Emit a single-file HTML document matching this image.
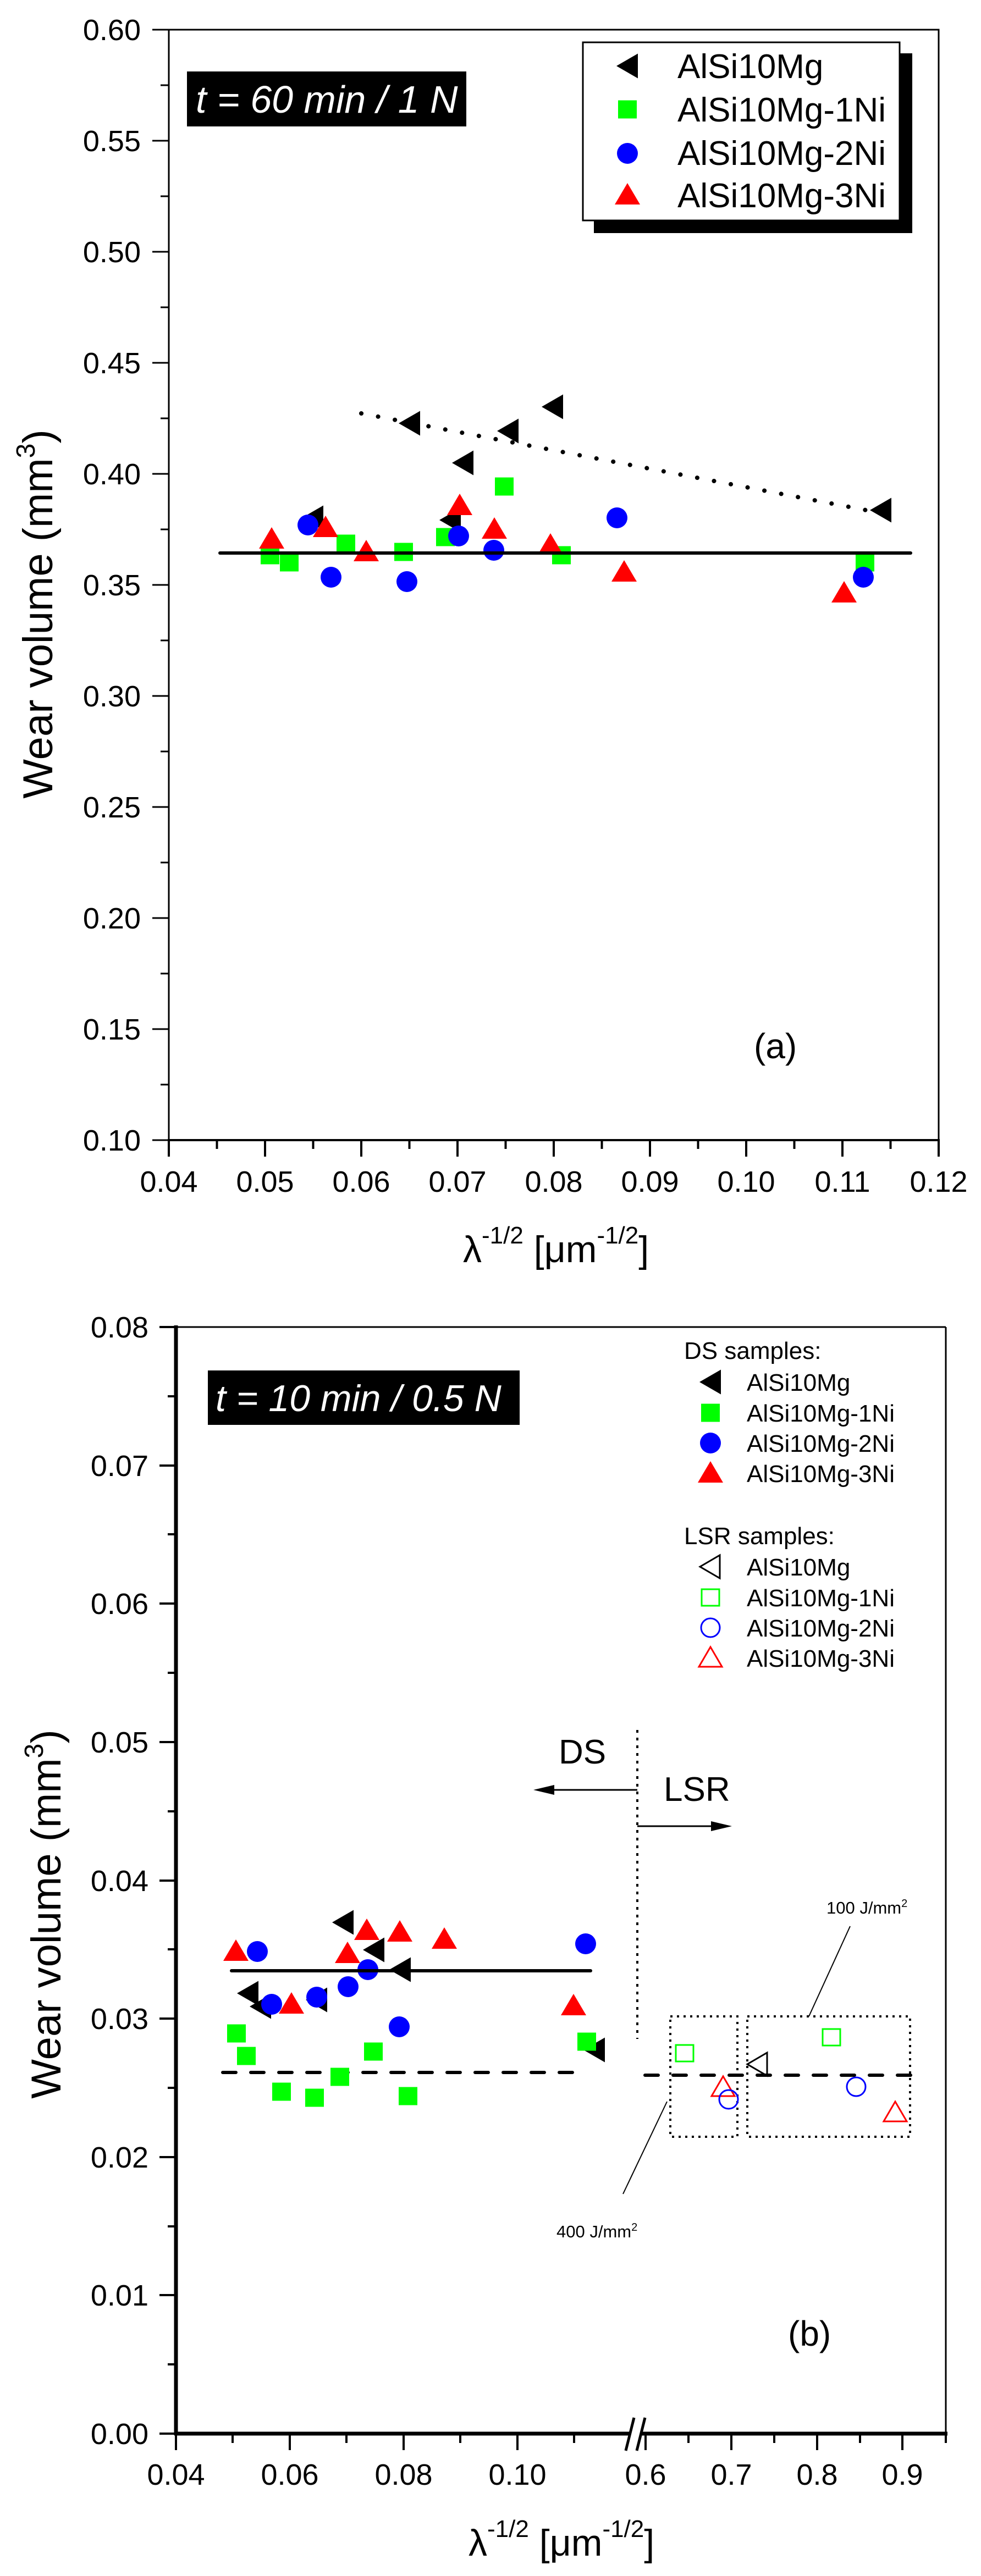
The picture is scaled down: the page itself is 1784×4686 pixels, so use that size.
<!DOCTYPE html>
<html><head><meta charset="utf-8"><style>
html,body{margin:0;padding:0;background:#fff}
svg{display:block}
text{font-family:"Liberation Sans",Arial,sans-serif}
</style></head><body>
<svg width="1784" height="4686" viewBox="0 0 1784 4686" xmlns="http://www.w3.org/2000/svg">
<defs>
<path id="lt" d="M-20,0 L19,-22.5 L19,22.5Z" fill="#000"/>
<rect id="sq" x="-17" y="-16.5" width="34" height="33" fill="#00ff00"/>
<ellipse id="ci" cx="0" cy="0" rx="19" ry="19" fill="#0000ff"/>
<path id="ut" d="M0,-22 L23,17 L-23,17Z" fill="#ff0000"/>
<path id="olt" d="M-19,0 L17,-21 L17,21Z" fill="none" stroke="#000" stroke-width="3"/>
<rect id="osq" x="-16" y="-15" width="32" height="30" fill="none" stroke="#00ff00" stroke-width="3"/>
<ellipse id="oci" cx="0" cy="0" rx="17" ry="17" fill="none" stroke="#0000ff" stroke-width="3"/>
<path id="out" d="M0,-20 L21,16 L-21,16Z" fill="none" stroke="#ff0000" stroke-width="3"/>
</defs>

<!-- ================= PANEL A ================= -->
<g stroke="#000" stroke-width="3" fill="none">
<rect x="307" y="54" width="1400" height="2020"/>
<line x1="305" y1="2074" x2="1709" y2="2074" stroke-width="4"/>
</g>
<g stroke="#000" stroke-width="3">
<line x1="277" y1="54" x2="307" y2="54"/><line x1="292" y1="155" x2="307" y2="155"/>
<line x1="277" y1="256" x2="307" y2="256"/><line x1="292" y1="357" x2="307" y2="357"/>
<line x1="277" y1="458" x2="307" y2="458"/><line x1="292" y1="559" x2="307" y2="559"/>
<line x1="277" y1="660" x2="307" y2="660"/><line x1="292" y1="761" x2="307" y2="761"/>
<line x1="277" y1="862" x2="307" y2="862"/><line x1="292" y1="963" x2="307" y2="963"/>
<line x1="277" y1="1064" x2="307" y2="1064"/><line x1="292" y1="1165" x2="307" y2="1165"/>
<line x1="277" y1="1266" x2="307" y2="1266"/><line x1="292" y1="1367" x2="307" y2="1367"/>
<line x1="277" y1="1468" x2="307" y2="1468"/><line x1="292" y1="1569" x2="307" y2="1569"/>
<line x1="277" y1="1670" x2="307" y2="1670"/><line x1="292" y1="1771" x2="307" y2="1771"/>
<line x1="277" y1="1872" x2="307" y2="1872"/><line x1="292" y1="1973" x2="307" y2="1973"/>
<line x1="277" y1="2074" x2="307" y2="2074"/>
</g>
<g stroke="#000" stroke-width="4">
<line x1="307" y1="2074" x2="307" y2="2104"/><line x1="394.5" y1="2074" x2="394.5" y2="2090"/>
<line x1="482" y1="2074" x2="482" y2="2104"/><line x1="569.5" y1="2074" x2="569.5" y2="2090"/>
<line x1="657" y1="2074" x2="657" y2="2104"/><line x1="744.5" y1="2074" x2="744.5" y2="2090"/>
<line x1="832" y1="2074" x2="832" y2="2104"/><line x1="919.5" y1="2074" x2="919.5" y2="2090"/>
<line x1="1007" y1="2074" x2="1007" y2="2104"/><line x1="1094.5" y1="2074" x2="1094.5" y2="2090"/>
<line x1="1182" y1="2074" x2="1182" y2="2104"/><line x1="1269.5" y1="2074" x2="1269.5" y2="2090"/>
<line x1="1357" y1="2074" x2="1357" y2="2104"/><line x1="1444.5" y1="2074" x2="1444.5" y2="2090"/>
<line x1="1532" y1="2074" x2="1532" y2="2104"/><line x1="1619.5" y1="2074" x2="1619.5" y2="2090"/>
<line x1="1707" y1="2074" x2="1707" y2="2104"/>
</g>
<g font-size="54" text-anchor="end">
<text x="256" y="73">0.60</text><text x="256" y="275">0.55</text><text x="256" y="477">0.50</text>
<text x="256" y="679">0.45</text><text x="256" y="881">0.40</text><text x="256" y="1083">0.35</text>
<text x="256" y="1285">0.30</text><text x="256" y="1487">0.25</text><text x="256" y="1689">0.20</text>
<text x="256" y="1891">0.15</text><text x="256" y="2093">0.10</text>
</g>
<g font-size="54" text-anchor="middle">
<text x="307" y="2168">0.04</text><text x="482" y="2168">0.05</text><text x="657" y="2168">0.06</text>
<text x="832" y="2168">0.07</text><text x="1007" y="2168">0.08</text><text x="1182" y="2168">0.09</text>
<text x="1357" y="2168">0.10</text><text x="1532" y="2168">0.11</text><text x="1707" y="2168">0.12</text>
</g>
<text x="842" y="2296" font-size="68">λ<tspan font-size="44" dy="-34">-1/2</tspan><tspan dy="34"> [μm</tspan><tspan font-size="44" dy="-34">-1/2</tspan><tspan dy="34">]</tspan></text>
<text transform="translate(95,1117) rotate(-90)" font-size="76" text-anchor="middle">Wear volume (mm<tspan font-size="48" dy="-32">3</tspan><tspan dy="32">)</tspan></text>

<rect x="340" y="130" width="508" height="100" fill="#000"/>
<text x="356" y="205" font-size="70" font-style="italic" fill="#fff">t = 60 min / 1 N</text>

<rect x="1080" y="97" width="579" height="327" fill="#000"/>
<rect x="1060" y="77" width="576" height="324" fill="#fff" stroke="#000" stroke-width="3"/>
<use href="#lt" x="1141" y="120"/><use href="#sq" x="1141" y="199"/>
<use href="#ci" x="1141" y="279"/><use href="#ut" x="1141" y="355"/>
<g font-size="62">
<text x="1232" y="142">AlSi10Mg</text><text x="1232" y="221">AlSi10Mg-1Ni</text>
<text x="1232" y="300">AlSi10Mg-2Ni</text><text x="1232" y="377">AlSi10Mg-3Ni</text>
</g>
<text x="1371" y="1925" font-size="64">(a)</text>

<line x1="657" y1="752" x2="1622" y2="937" stroke="#000" stroke-width="8" stroke-linecap="round" stroke-dasharray="0.1,31"/>

<use href="#lt" x="569" y="942"/><use href="#lt" x="745" y="770"/><use href="#lt" x="842" y="842"/>
<use href="#lt" x="819" y="946"/><use href="#lt" x="924" y="784"/><use href="#lt" x="1005" y="740"/>
<use href="#lt" x="1602" y="928"/>
<use href="#sq" x="491" y="1010"/><use href="#sq" x="526" y="1023"/><use href="#sq" x="629" y="989"/>
<use href="#sq" x="734" y="1004"/><use href="#sq" x="810" y="977"/><use href="#sq" x="917" y="885"/>
<use href="#sq" x="1021" y="1010"/><use href="#sq" x="1573" y="1023"/>
<use href="#ci" x="560" y="955"/><use href="#ci" x="602" y="1050"/><use href="#ci" x="740" y="1058"/>
<use href="#ci" x="834" y="975"/><use href="#ci" x="898" y="1001"/><use href="#ci" x="1122" y="942"/>
<use href="#ci" x="1570" y="1050"/>
<use href="#ut" x="494" y="981"/><use href="#ut" x="592" y="960"/><use href="#ut" x="666" y="1004"/>
<use href="#ut" x="836" y="920"/><use href="#ut" x="899" y="963"/><use href="#ut" x="1001" y="992"/>
<use href="#ut" x="1135" y="1041"/><use href="#ut" x="1535" y="1079"/>
<line x1="400" y1="1006" x2="1656" y2="1006" stroke="#000" stroke-width="6" stroke-linecap="round"/>

<!-- ================= PANEL B ================= -->
<g stroke="#000" fill="none">
<line x1="320" y1="2414" x2="1720" y2="2414" stroke-width="3"/>
<line x1="1720" y1="2414" x2="1720" y2="4427" stroke-width="3"/>
<line x1="320" y1="2411" x2="320" y2="4430" stroke-width="7"/>
<line x1="317" y1="4427" x2="1723" y2="4427" stroke-width="7"/>
</g>
<g stroke="#000" stroke-width="4">
<line x1="290" y1="2414" x2="320" y2="2414"/><line x1="305" y1="2540" x2="320" y2="2540"/>
<line x1="290" y1="2666" x2="320" y2="2666"/><line x1="305" y1="2791" x2="320" y2="2791"/>
<line x1="290" y1="2917" x2="320" y2="2917"/><line x1="305" y1="3043" x2="320" y2="3043"/>
<line x1="290" y1="3169" x2="320" y2="3169"/><line x1="305" y1="3295" x2="320" y2="3295"/>
<line x1="290" y1="3421" x2="320" y2="3421"/><line x1="305" y1="3546" x2="320" y2="3546"/>
<line x1="290" y1="3672" x2="320" y2="3672"/><line x1="305" y1="3798" x2="320" y2="3798"/>
<line x1="290" y1="3924" x2="320" y2="3924"/><line x1="305" y1="4050" x2="320" y2="4050"/>
<line x1="290" y1="4175" x2="320" y2="4175"/><line x1="305" y1="4301" x2="320" y2="4301"/>
<line x1="290" y1="4427" x2="320" y2="4427"/>
<line x1="320" y1="4427" x2="320" y2="4457"/><line x1="423" y1="4427" x2="423" y2="4444"/>
<line x1="527" y1="4427" x2="527" y2="4457"/><line x1="630" y1="4427" x2="630" y2="4444"/>
<line x1="734" y1="4427" x2="734" y2="4457"/><line x1="837" y1="4427" x2="837" y2="4444"/>
<line x1="941" y1="4427" x2="941" y2="4457"/><line x1="1044" y1="4427" x2="1044" y2="4444"/>
<line x1="1174" y1="4427" x2="1174" y2="4457"/><line x1="1252" y1="4427" x2="1252" y2="4444"/>
<line x1="1330" y1="4427" x2="1330" y2="4457"/><line x1="1408" y1="4427" x2="1408" y2="4444"/>
<line x1="1486" y1="4427" x2="1486" y2="4457"/><line x1="1564" y1="4427" x2="1564" y2="4444"/>
<line x1="1641" y1="4427" x2="1641" y2="4457"/><line x1="1720" y1="4427" x2="1720" y2="4444"/>
</g>
<rect x="1146" y="4420" width="18" height="14" fill="#fff"/>
<g stroke="#000" stroke-width="5">
<line x1="1153" y1="4398" x2="1138" y2="4458"/><line x1="1173" y1="4398" x2="1158" y2="4458"/>
</g>
<g font-size="54" text-anchor="end">
<text x="270" y="2433">0.08</text><text x="270" y="2685">0.07</text><text x="270" y="2936">0.06</text>
<text x="270" y="3188">0.05</text><text x="270" y="3440">0.04</text><text x="270" y="3691">0.03</text>
<text x="270" y="3943">0.02</text><text x="270" y="4194">0.01</text><text x="270" y="4446">0.00</text>
</g>
<g font-size="54" text-anchor="middle">
<text x="320" y="4520">0.04</text><text x="527" y="4520">0.06</text><text x="734" y="4520">0.08</text>
<text x="941" y="4520">0.10</text><text x="1174" y="4520">0.6</text><text x="1330" y="4520">0.7</text>
<text x="1486" y="4520">0.8</text><text x="1641" y="4520">0.9</text>
</g>
<text x="852" y="4649" font-size="68">λ<tspan font-size="44" dy="-34">-1/2</tspan><tspan dy="34"> [μm</tspan><tspan font-size="44" dy="-34">-1/2</tspan><tspan dy="34">]</tspan></text>
<text transform="translate(110,3482) rotate(-90)" font-size="76" text-anchor="middle">Wear volume (mm<tspan font-size="48" dy="-32">3</tspan><tspan dy="32">)</tspan></text>

<rect x="378" y="2493" width="567" height="99" fill="#000"/>
<text x="392" y="2567" font-size="68" font-style="italic" fill="#fff">t = 10 min / 0.5 N</text>

<g font-size="44">
<text x="1244" y="2472">DS samples:</text>
<text x="1358" y="2530">AlSi10Mg</text><text x="1358" y="2586">AlSi10Mg-1Ni</text>
<text x="1358" y="2641">AlSi10Mg-2Ni</text><text x="1358" y="2696">AlSi10Mg-3Ni</text>
<text x="1244" y="2809">LSR samples:</text>
<text x="1358" y="2866">AlSi10Mg</text><text x="1358" y="2922">AlSi10Mg-1Ni</text>
<text x="1358" y="2977">AlSi10Mg-2Ni</text><text x="1358" y="3032">AlSi10Mg-3Ni</text>
</g>
<use href="#lt" x="1292" y="2514"/><use href="#sq" x="1292" y="2570"/>
<use href="#ci" x="1292" y="2625"/><use href="#ut" x="1292" y="2680"/>
<use href="#olt" x="1292" y="2850"/><use href="#osq" x="1292" y="2906"/>
<use href="#oci" x="1292" y="2961"/><use href="#out" x="1292" y="3016"/>

<text x="1433" y="4267" font-size="64">(b)</text>

<line x1="1159" y1="3147" x2="1159" y2="3709" stroke="#000" stroke-width="4" stroke-dasharray="5,9"/>
<line x1="1159" y1="3256" x2="995" y2="3256" stroke="#000" stroke-width="3"/>
<path d="M970,3256 L1008,3247 L1008,3265Z" fill="#000"/>
<line x1="1159" y1="3322" x2="1305" y2="3322" stroke="#000" stroke-width="3"/>
<path d="M1331,3322 L1293,3313 L1293,3331Z" fill="#000"/>
<text x="1016" y="3208" font-size="62">DS</text>
<text x="1207" y="3276" font-size="62">LSR</text>

<g stroke="#000" stroke-width="6" stroke-linecap="round" stroke-dasharray="24,27">
<line x1="405" y1="3770" x2="1044" y2="3770"/>
<line x1="1173" y1="3775" x2="1662" y2="3775"/>
</g>

<g fill="none" stroke="#000" stroke-width="4" stroke-dasharray="4,8">
<rect x="1219" y="3668" width="122" height="219"/>
<rect x="1359" y="3668" width="296" height="219"/>
</g>
<line x1="1471" y1="3668" x2="1546" y2="3504" stroke="#000" stroke-width="2"/>
<line x1="1213" y1="3823" x2="1133" y2="3991" stroke="#000" stroke-width="2"/>
<text x="1503" y="3481" font-size="31">100 J/mm<tspan font-size="20" dy="-12">2</tspan></text>
<text x="1012" y="4070" font-size="31">400 J/mm<tspan font-size="20" dy="-12">2</tspan></text>

<use href="#lt" x="451" y="3626"/><use href="#lt" x="474" y="3650"/><use href="#lt" x="624" y="3497"/>
<use href="#lt" x="576" y="3638"/><use href="#lt" x="680" y="3547"/><use href="#lt" x="728" y="3583"/>
<use href="#lt" x="1081" y="3729"/>
<use href="#sq" x="430" y="3699"/><use href="#sq" x="448" y="3740"/><use href="#sq" x="512" y="3805"/>
<use href="#sq" x="572" y="3816"/><use href="#sq" x="618" y="3778"/><use href="#sq" x="679" y="3732"/>
<use href="#sq" x="742" y="3813"/><use href="#sq" x="1067" y="3714"/>
<use href="#ci" x="468" y="3550"/><use href="#ci" x="494" y="3646"/><use href="#ci" x="576" y="3633"/>
<use href="#ci" x="633" y="3614"/><use href="#ci" x="669" y="3583"/><use href="#ci" x="726" y="3687"/>
<use href="#ci" x="1065" y="3536"/>
<use href="#ut" x="429" y="3550"/><use href="#ut" x="530" y="3646"/><use href="#ut" x="632" y="3554"/>
<use href="#ut" x="667" y="3512"/><use href="#ut" x="727" y="3515"/><use href="#ut" x="808" y="3528"/>
<use href="#ut" x="1043" y="3649"/>
<line x1="421" y1="3585" x2="1074" y2="3585" stroke="#000" stroke-width="6" stroke-linecap="round"/>

<use href="#osq" x="1245" y="3735"/><use href="#out" x="1315" y="3797"/>
<use href="#oci" x="1325" y="3819"/><use href="#olt" x="1378" y="3755"/>
<use href="#osq" x="1512" y="3706"/><use href="#oci" x="1557" y="3796"/>
<use href="#out" x="1628" y="3843"/>
</svg>
</body></html>
